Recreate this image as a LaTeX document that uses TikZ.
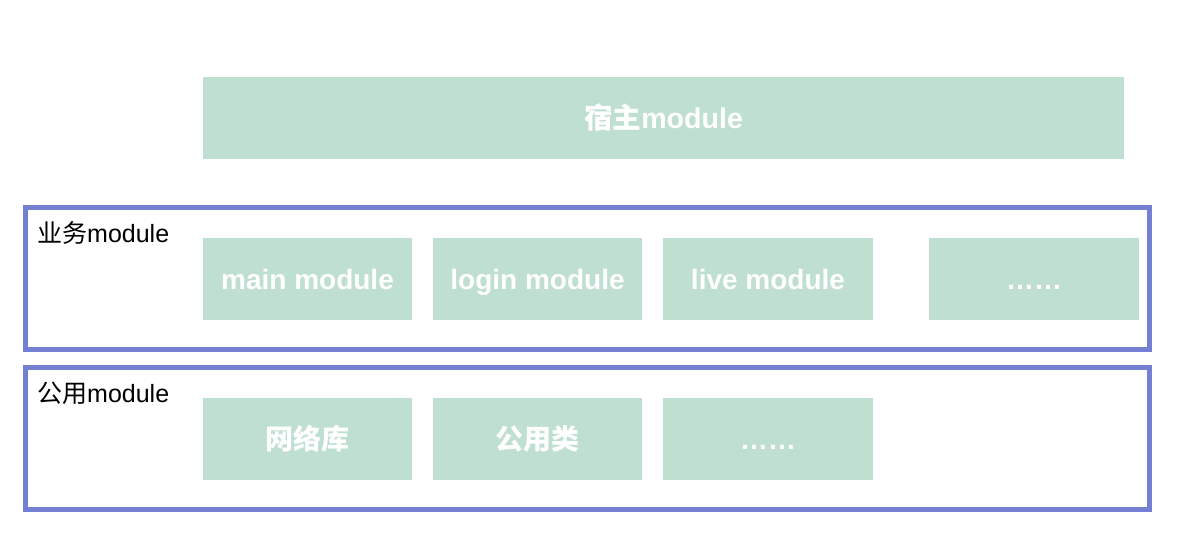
\documentclass[tikz,border=0pt]{standalone}
\usepackage{fontspec}
\setmainfont{Liberation Sans}
\newfontfamily\cjk{Noto Sans CJK SC}
\newcommand\zh[1]{{\cjk #1}}
\definecolor{modgreen}{HTML}{BFDFD1}
\definecolor{frameblue}{HTML}{7480D4}
\begin{document}
\begin{tikzpicture}[x=1pt,y=-1pt,
  modbox/.style={fill=modgreen,draw=none,inner sep=0pt,text=white,
    font=\fontsize{28}{32}\selectfont\bfseries,text height=21pt,text depth=0pt,
    minimum height=82pt},
  layer/.style={draw=frameblue,line width=5pt,fill=none,inner sep=0pt,
    minimum width=1124pt,minimum height=142pt},
  layerlabel/.style={anchor=base west,inner sep=0pt,font=\fontsize{25}{29}\selectfont}]
\useasboundingbox (0,0) rectangle (1196,556);
% host
\node[modbox,minimum width=921pt,font=\fontsize{28.6}{32}\selectfont\bfseries] (host) at (663.5,118) {\zh{宿主}module};
% business layer
\node[layer] (biz) at (587.5,278.5) {};
\node[layerlabel] (bizlabel) at (37,242) {\zh{业务}module};
\node[modbox,minimum width=209pt] (main) at (307.5,278.5) {main module};
\node[modbox,minimum width=209pt] (login) at (537.5,278.5) {login module};
\node[modbox,minimum width=210pt] (live) at (768,278.5) {live module};
\node[modbox,minimum width=210pt] (bizmore) at (1034,278.5) {……};
% common layer
\node[layer] (common) at (587.5,438.5) {};
\node[layerlabel] (commonlabel) at (37,402) {\zh{公用}module};
\node[modbox,minimum width=209pt] (net) at (307.5,438.5) {\zh{网络库}};
\node[modbox,minimum width=209pt] (util) at (537.5,438.5) {\zh{公用类}};
\node[modbox,minimum width=210pt] (commonmore) at (768,438.5) {……};
\end{tikzpicture}
\end{document}
